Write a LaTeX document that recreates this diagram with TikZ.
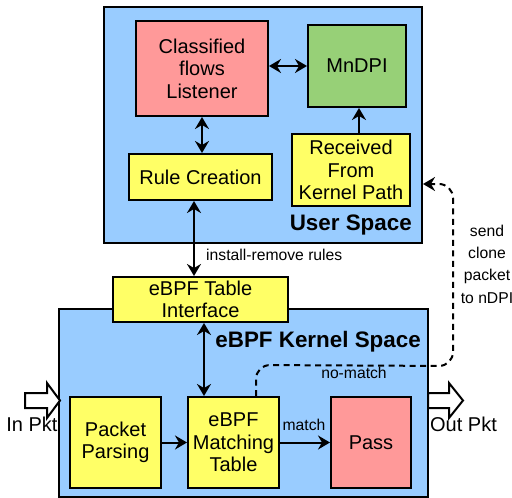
\documentclass[tikz,border=0pt]{standalone}
\usepackage{fontspec}
\setmainfont{Liberation Sans}
\usetikzlibrary{arrows.meta,calc}
\definecolor{ublue}{HTML}{99CCFF}
\definecolor{uyel}{HTML}{FFFF66}
\definecolor{upink}{HTML}{FF9999}
\definecolor{ugreen}{HTML}{97D077}
\begin{document}
\begin{tikzpicture}[x=1pt,y=-1pt,
 box/.style={draw=black,line width=2pt,inner sep=0pt,align=center,font=\fontsize{20}{22.5}\selectfont},
 area/.style={draw=black,line width=2pt,fill=ublue,inner sep=0pt},
 tip/.tip={Stealth[length=12pt,width=14pt,inset=4pt]},
 conn/.style={line width=2pt,-tip},
 dconn/.style={line width=2pt,tip-tip},
 lbl/.style={font=\fontsize{15.7}{22.3}\selectfont,inner sep=0pt,align=center},
 ttl/.style={font=\fontsize{22.4}{26}\selectfont\bfseries,inner sep=0pt},
 blockarrow/.style={draw=black,line width=2pt,fill=white,line join=miter}
]
\useasboundingbox (0,0) rectangle (512,498);
% areas
\node[area,minimum width=318,minimum height=236] (us) at (263,125) {};
\node[area,minimum width=369,minimum height=188] (ks) at (243.5,403) {};
% block arrows
\draw[blockarrow] (25,393) -- (47,393) -- (47,383) -- (60,400.5) -- (47,418) -- (47,408) -- (25,408) -- cycle;
\draw[blockarrow] (428,393) -- (449,393) -- (449,383) -- (463,400.5) -- (449,418) -- (449,408) -- (428,408) -- cycle;
\node[font=\fontsize{20}{22.5}\selectfont,inner sep=0pt] (inpkt) at (32,424) {In Pkt};
\node[font=\fontsize{20}{22.5}\selectfont,inner sep=0pt] (outpkt) at (463.5,424) {Out Pkt};
% user space nodes
\node[box,fill=upink,minimum width=132,minimum height=95] (cfl) at (202,68.5) {Classified\\flows\\Listener};
\node[box,fill=ugreen,minimum width=98,minimum height=82] (mndpi) at (357,66) {MnDPI};
\node[box,fill=uyel,minimum width=143,minimum height=46] (rule) at (200.5,177) {Rule Creation};
\node[box,fill=uyel,minimum width=118,minimum height=72] (recv) at (351,170) {Received\\From\\Kernel Path};
\node[ttl,anchor=east] (ustitle) at (412,225) {User Space};
% kernel nodes
\node[box,fill=uyel,minimum width=175,minimum height=45] (tab) at (200.5,299.5) {eBPF Table\\Interface};
\node[ttl,anchor=east] (kstitle) at (421,342) {eBPF Kernel Space};
\node[box,fill=uyel,minimum width=91,minimum height=91] (parse) at (115.5,442.5) {Packet\\Parsing};
\node[box,fill=uyel,minimum width=91,minimum height=91] (match) at (233.5,442.5) {eBPF\\Matching\\Table};
\node[box,fill=upink,minimum width=80,minimum height=91] (pass) at (371,442.5) {Pass};
% connectors
\draw[dconn] (mndpi.west -| cfl.east) -- (mndpi.west);
\draw[dconn] (cfl.south) -- (cfl.south |- rule.north);
\draw[conn] ([xshift=2pt]recv.north -| mndpi.south) -- ([xshift=2pt]mndpi.south);
\draw[dconn] ([xshift=-6.5pt]rule.south) -- ([xshift=-6.5pt]tab.north);
\node[lbl,anchor=west] (irr) at (206,255) {install-remove rules};
\draw[dconn] ([xshift=3.5pt]tab.south) -- ([xshift=3.5pt]tab.south |- match.north);
\draw[conn] (parse.east) -- (match.west);
\draw[conn] (match.east) -- (pass.west);
\node[lbl] (mlbl) at (304,425) {match};
\coordinate (dashend) at (423,184);
\draw[line width=2pt,dash pattern=on 6pt off 4.5pt,rounded corners=14pt,-tip]
  ([xshift=22.5pt]match.north) -- ++(0,-31) -- (453,366) -- (453,184) -- (dashend);
\node[lbl] (nm) at (354,373) {no-match};
\node[lbl] (send) at (487,264) {send\\clone\\packet\\to nDPI};
\end{tikzpicture}
\end{document}
